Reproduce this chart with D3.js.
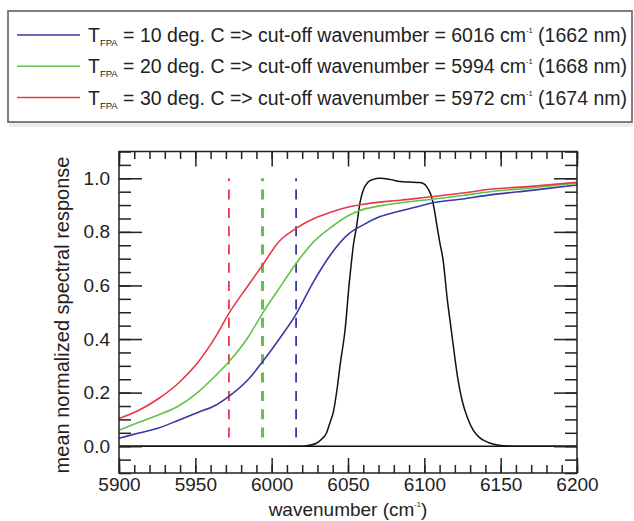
<!DOCTYPE html>
<html><head><meta charset="utf-8">
<script src="https://cdn.jsdelivr.net/npm/d3@7"></script>
<style>
body{margin:0;background:#fff;}
svg{display:block;font-family:"Liberation Sans",Arial,Helvetica,sans-serif;}
</style></head><body>
<svg id="chart" width="634" height="521"></svg>
<script>
// Mean normalized spectral response for three focal-plane temperatures
const wavenumber = [5900, 5913, 5926, 5939, 5952, 5963, 5972, 5984, 5994, 6005, 6016, 6027, 6038, 6051, 6060, 6071, 6082, 6094, 6104, 6125, 6143, 6170, 6200];
const resp10 = [0.030, 0.049, 0.068, 0.097, 0.127, 0.152, 0.186, 0.245, 0.315, 0.400, 0.493, 0.610, 0.710, 0.795, 0.826, 0.857, 0.875, 0.892, 0.907, 0.923, 0.938, 0.955, 0.975];
const resp20 = [0.060, 0.089, 0.117, 0.150, 0.203, 0.262, 0.315, 0.402, 0.496, 0.590, 0.682, 0.760, 0.813, 0.863, 0.884, 0.897, 0.907, 0.915, 0.921, 0.936, 0.950, 0.964, 0.982];
const resp30 = [0.103, 0.134, 0.178, 0.236, 0.315, 0.406, 0.496, 0.595, 0.676, 0.765, 0.813, 0.848, 0.872, 0.894, 0.903, 0.911, 0.917, 0.924, 0.931, 0.945, 0.959, 0.970, 0.985];

// Band-pass filter transmission (black)
const filterWn = [5900, 6018, 6023, 6029, 6033, 6036, 6038, 6040.5, 6043, 6045, 6048, 6051, 6052.4, 6053.5, 6055.6, 6057.8, 6060, 6063, 6066, 6071, 6078, 6084, 6090, 6097, 6100, 6101.5, 6103, 6104.7, 6106.5, 6108, 6110, 6112.4, 6115, 6117.5, 6120, 6122, 6125, 6128, 6132, 6136, 6141, 6145, 6150, 6155, 6160, 6200];
const filterResp = [0, 0, 0.002, 0.010, 0.028, 0.050, 0.085, 0.130, 0.220, 0.310, 0.430, 0.620, 0.695, 0.750, 0.820, 0.907, 0.956, 0.985, 0.995, 1.000, 0.995, 0.988, 0.986, 0.984, 0.978, 0.969, 0.955, 0.931, 0.885, 0.832, 0.765, 0.690, 0.550, 0.440, 0.330, 0.250, 0.165, 0.110, 0.060, 0.033, 0.016, 0.008, 0.003, 0.001, 0, 0];

// Legend / cut-off information
const temperatures = [10, 20, 30];
const cutoffWn = [6016, 5994, 5972];
const cutoffNm = [1662, 1668, 1674];
const seriesColors = ["#3838a8", "#62c24a", "#e8384a"];

// Axis ticks
const xMajorTicks = [5900, 5950, 6000, 6050, 6100, 6150, 6200];
const xMinorTicks = d3.range(5900, 6201, 10);
const yMajorTicks = [0, 0.2, 0.4, 0.6, 0.8, 1.0];
const yTickLabels = ["0.0", "0.2", "0.4", "0.6", "0.8", "1.0"];
const yMinorTicks = d3.range(-0.1, 1.1001, 0.05).map(v => +v.toFixed(2));

const svg = d3.select("#chart");
const L = 119, R = 577, T = 151.5, B = 473;
const x = d3.scaleLinear().domain([5900, 6200]).range([L, R]);
const y = d3.scaleLinear().domain([-0.1, 1.1]).range([B, T]);

// ---- Legend box ----
const legend = svg.append("g");
legend.append("rect").attr("x", 9).attr("y", 122).attr("width", 624).attr("height", 5)
  .attr("fill", "#e2e2e2").attr("opacity", 0.7);
legend.append("rect").attr("x", 8).attr("y", 11).attr("width", 624).attr("height", 111)
  .attr("fill", "#fff").attr("stroke", "#555").attr("stroke-width", 1.5);

temperatures.forEach((t, i) => {
  const cy = 35 + i * 31.3;
  legend.append("line").attr("x1", 17).attr("x2", 80).attr("y1", cy).attr("y2", cy)
    .attr("stroke", seriesColors[i]).attr("stroke-width", 1.5);
  const txt = legend.append("text").attr("x", 88).attr("y", cy + 7)
    .attr("font-size", 19.5).attr("fill", "#222");
  txt.append("tspan").text("T");
  txt.append("tspan").attr("font-size", 9.5).attr("dy", 4).text("FPA");
  txt.append("tspan").attr("dy", -4).text(` = ${t} deg. C => cut-off wavenumber = ${cutoffWn[i]} cm`);
  txt.append("tspan").attr("font-size", 7.5).attr("dy", -9).text("-1");
  txt.append("tspan").attr("dy", 9).text(` (${cutoffNm[i]} nm)`);
});

// ---- Plot ----
const plot = svg.append("g");

// zero baseline
plot.append("line").attr("x1", x(5900)).attr("x2", x(6200)).attr("y1", y(0)).attr("y2", y(0))
  .attr("stroke", "#111").attr("stroke-width", 1.5);

// cut-off markers
cutoffWn.forEach((w, i) => {
  plot.append("line").attr("x1", x(w)).attr("x2", x(w)).attr("y1", y(1.0)).attr("y2", y(0))
    .attr("stroke", seriesColors[i]).attr("stroke-width", i === 1 ? 3 : 1.8)
    .attr("stroke-dasharray", "10,8.3").attr("stroke-dashoffset", 7);
});

const line = d3.line().x(d => x(d[0])).y(d => y(d[1])).curve(d3.curveMonotoneX);

plot.append("path").datum(filterWn.map((w, i) => [w, filterResp[i]]))
  .attr("d", line).attr("fill", "none").attr("stroke", "#111").attr("stroke-width", 1.5);

[resp10, resp20, resp30].forEach((s, i) => {
  plot.append("path").datum(wavenumber.map((w, j) => [w, s[j]]))
    .attr("d", line).attr("fill", "none").attr("stroke", seriesColors[i]).attr("stroke-width", 1.6);
});

// ---- Axes (ticks point inward on all four sides) ----
function styleAxis(g) {
  g.select(".domain").remove();
  g.selectAll(".tick line").attr("stroke", "#222").attr("stroke-width", 1.5);
  g.selectAll(".tick text").attr("fill", "#222").attr("font-size", 19)
    .attr("font-family", '"Liberation Sans",Arial,Helvetica,sans-serif');
}
// bottom
svg.append("g").attr("transform", `translate(0,${B})`)
  .call(d3.axisBottom(x).tickValues(xMinorTicks).tickSize(-8).tickFormat(""))
  .call(styleAxis);
svg.append("g").attr("transform", `translate(0,${B})`)
  .call(d3.axisBottom(x).tickValues(xMajorTicks).tickSize(-15).tickPadding(5).tickFormat(d3.format("d")))
  .call(styleAxis);
// top
svg.append("g").attr("transform", `translate(0,${T})`)
  .call(d3.axisTop(x).tickValues(xMinorTicks).tickSize(-7.5).tickFormat(""))
  .call(styleAxis);
svg.append("g").attr("transform", `translate(0,${T})`)
  .call(d3.axisTop(x).tickValues(xMajorTicks).tickSize(-15).tickFormat(""))
  .call(styleAxis);
// left
svg.append("g").attr("transform", `translate(${L},0)`)
  .call(d3.axisLeft(y).tickValues(yMinorTicks).tickSize(-12).tickFormat(""))
  .call(styleAxis);
svg.append("g").attr("transform", `translate(${L},0)`)
  .call(d3.axisLeft(y).tickValues(yMajorTicks).tickSize(-23).tickPadding(9)
    .tickFormat((d, i) => yTickLabels[i]))
  .call(styleAxis);
// right
svg.append("g").attr("transform", `translate(${R},0)`)
  .call(d3.axisRight(y).tickValues(yMinorTicks).tickSize(-12).tickFormat(""))
  .call(styleAxis);
svg.append("g").attr("transform", `translate(${R},0)`)
  .call(d3.axisRight(y).tickValues(yMajorTicks).tickSize(-23).tickFormat(""))
  .call(styleAxis);

// frame
svg.append("rect").attr("x", L).attr("y", T).attr("width", R - L).attr("height", B - T)
  .attr("fill", "none").attr("stroke", "#222").attr("stroke-width", 1.5);

// axis titles
const xt = svg.append("text").attr("x", (L + R) / 2).attr("y", 516).attr("text-anchor", "middle")
  .attr("font-size", 19).attr("fill", "#222");
xt.append("tspan").text("wavenumber (cm");
xt.append("tspan").attr("font-size", 7.5).attr("dy", -9).text("-1");
xt.append("tspan").attr("dy", 9).text(")");

svg.append("text").attr("transform", `translate(69,315) rotate(-90)`)
  .attr("text-anchor", "middle").attr("font-size", 20).attr("fill", "#222")
  .text("mean normalized spectral response");
</script>
</body></html>
